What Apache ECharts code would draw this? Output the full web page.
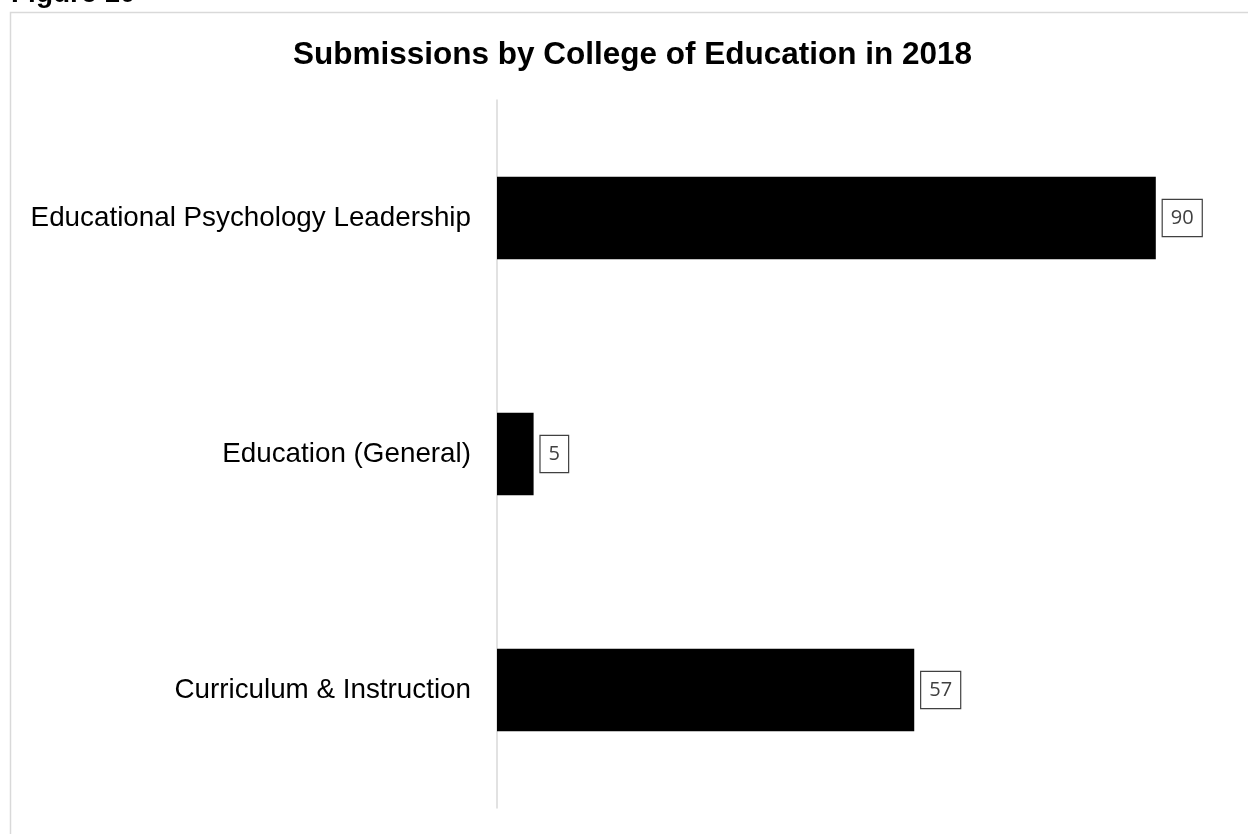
<!DOCTYPE html>
<html>
<head>
<meta charset="utf-8">
<script src="https://cdn.jsdelivr.net/npm/echarts@6/dist/echarts.min.js"></script>
<style>
html,body{margin:0;padding:0;background:#fff;}
#c{width:1248px;height:834px;}
</style>
</head>
<body>
<div id="c"></div>
<script>
const categories = ['Curriculum & Instruction', 'Education (General)', 'Educational Psychology Leadership'];
const values = [57, 5, 90];
const titleText = 'Submissions by College of Education in 2018';
const figureLabel = 'Figure 10';

const chart = echarts.init(document.getElementById('c'));
chart.setOption({
  backgroundColor: '#ffffff',
  animation: false,
  title: {
    text: titleText,
    left: 288,
    top: 34,
    textStyle: { fontFamily: 'Liberation Sans, Arial', fontSize: 31.5, fontWeight: 'bold', color: '#000' }
  },
  graphic: [
    { type: 'rect', shape: { x: 10.5, y: 12.5, width: 1300, height: 900 }, style: { fill: 'none', stroke: '#d9d9d9', lineWidth: 1.5 }, silent: true },
    { type: 'text', x: 11, y: 8, style: { text: figureLabel, font: 'bold 28px "Liberation Sans", Arial', fill: '#000', verticalAlign: 'bottom' } }
  ],
  grid: { left: 497, right: 19, top: 100, bottom: 26, containLabel: false },
  xAxis: {
    type: 'value', min: 0, max: 100,
    show: false
  },
  yAxis: {
    type: 'category',
    data: categories,
    axisLine: { show: true, lineStyle: { color: '#d9d9d9', width: 1.5 } },
    axisTick: { show: false },
    axisLabel: { margin: 26, fontFamily: 'Liberation Sans, Arial', fontSize: 27.8, color: '#000' }
  },
  series: [{
    type: 'bar',
    data: values,
    barWidth: '35%',
    itemStyle: { color: '#000' },
    label: {
      show: true,
      position: 'right',
      distance: 7,
      fontFamily: 'Open Sans, Noto Sans',
      fontSize: 20,
      color: '#404040',
      borderColor: '#404040',
      borderWidth: 1.2,
      padding: [8, 8, 8, 8],
      backgroundColor: '#fff'
    }
  }]
});
</script>
</body>
</html>
